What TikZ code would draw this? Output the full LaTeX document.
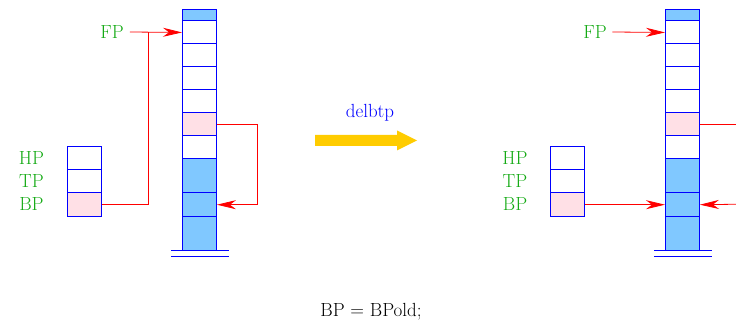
\documentclass[tikz,border=0pt]{standalone}
\usetikzlibrary{arrows.meta}
\definecolor{lblue}{RGB}{128,200,255}
\definecolor{lpink}{RGB}{255,224,230}
\definecolor{lgreen}{RGB}{20,170,20}
\definecolor{gold}{RGB}{255,204,0}
\begin{document}
\begin{tikzpicture}[x=1pt,y=-1pt,
  cell/.style={draw=blue,line width=0.9pt,minimum width=34pt,inner sep=0pt,anchor=north west,fill=white},
  lbl/.style={text=lgreen,font=\fontsize{19}{22}\selectfont,inner sep=0pt},
  txt/.style={font=\fontsize{19}{22}\selectfont,inner sep=0pt},
  ptr/.style={draw=red,line width=0.8pt,-{Stealth[length=19pt,width=9pt,inset=6pt]}},
  pline/.style={draw=red,line width=0.8pt},
  base/.style={draw=blue,line width=0.9pt}]
\useasboundingbox (0,0) rectangle (736,328);
% ---------- stacks ----------
\foreach \p/\x in {L/182,R/665}{
  \node[cell,fill=lblue,minimum height=11.5pt] (\p0) at (\x,9) {};
  \node[cell,minimum height=23pt] (\p1) at (\x,20.5) {};
  \node[cell,minimum height=23pt] (\p2) at (\x,43.5) {};
  \node[cell,minimum height=23pt] (\p3) at (\x,66.5) {};
  \node[cell,minimum height=23pt] (\p4) at (\x,89.5) {};
  \node[cell,fill=lpink,minimum height=23pt] (\p5) at (\x,112.5) {};
  \node[cell,minimum height=23pt] (\p6) at (\x,135.5) {};
  \node[cell,fill=lblue,minimum height=34pt] (\p7) at (\x,158.5) {};
  \node[cell,fill=lblue,minimum height=23.5pt] (\p8) at (\x,192.5) {};
  \node[cell,fill=lblue,minimum height=34pt] (\p9) at (\x,216) {};
}
\draw[base] (171,250) -- (229,250) (171,256) -- (229,256);
\draw[base] (654,250) -- (712,250) (654,256) -- (712,256);
% ---------- small stacks ----------
\foreach \p/\x in {A/67,B/550}{
  \node[cell,minimum height=23pt] (\p0) at (\x,146.5) {};
  \node[cell,minimum height=23pt] (\p1) at (\x,169.5) {};
  \node[cell,fill=lpink,minimum height=23.5pt] (\p2) at (\x,192.5) {};
}
% ---------- labels ----------
\node[lbl] (hpA) at (31.5,158) {HP};
\node[lbl] (tpA) at (31.5,181) {TP};
\node[lbl] (bpA) at (31.5,204) {BP};
\node[lbl] (fpA) at (112,32) {FP};
\node[lbl] (hpB) at (515,158) {HP};
\node[lbl] (tpB) at (515,181) {TP};
\node[lbl] (bpB) at (515,204) {BP};
\node[lbl] (fpB) at (595,32) {FP};
% ---------- left connectors ----------
\coordinate (J) at (148,32);
\draw[ptr] (fpA.east) ++(6,0) -- (L1.west);
\draw[pline] (A2.east) -| (J);
\coordinate (K) at (257,124);
\draw[ptr] (L5.east) -- (L5.east -| K) |- (L8.east);
% ---------- right connectors ----------
\coordinate (E1) at (736,124);
\coordinate (E2) at (736,204.25);
\draw[ptr] (fpB.east) ++(5.5,0) -- (R1.west);
\draw[ptr] (B2.east) -- (R8.west);
\draw[pline] (R5.east) -- (E1 |- R5.east);
\draw[ptr] (E2) -- (R8.east);
% ---------- transition ----------
\node[txt,text=blue] (op) at (370,113) {delbtp};
\fill[gold] (315,135) -- (397,135) -- (397,130.5) -- (417,140.5) -- (397,150.5) -- (397,146) -- (315,146) -- cycle;
\node[txt] (code) at (371,312) {BP = BPold;};
\end{tikzpicture}
\end{document}
